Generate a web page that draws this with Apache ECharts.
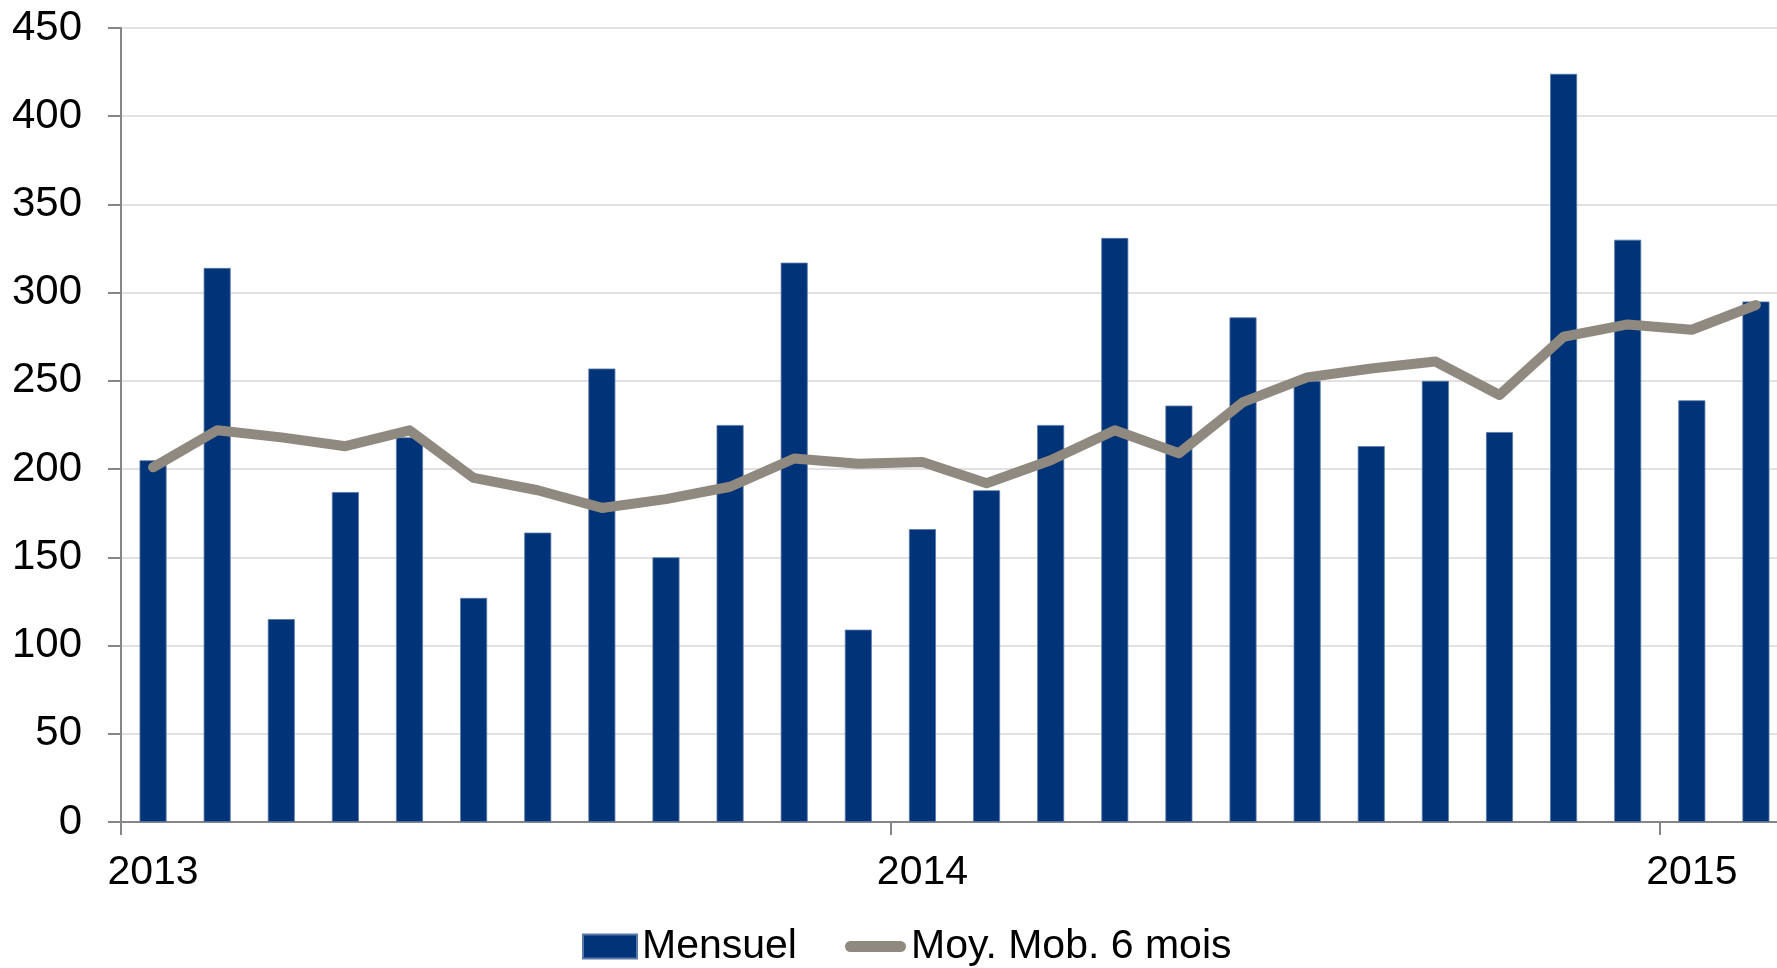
<!DOCTYPE html>
<html>
<head>
<meta charset="utf-8">
<script src="https://cdn.jsdelivr.net/npm/echarts@6/dist/echarts.min.js"></script>
<style>
html,body{margin:0;padding:0;background:#fff;}
#chart{width:1777px;height:968px;}
</style>
</head>
<body>
<div id="chart"></div>
<script>
// Months Jan 2013 .. Feb 2015
const months = ['2013-01','2013-02','2013-03','2013-04','2013-05','2013-06','2013-07','2013-08','2013-09','2013-10','2013-11','2013-12',
                '2014-01','2014-02','2014-03','2014-04','2014-05','2014-06','2014-07','2014-08','2014-09','2014-10','2014-11','2014-12',
                '2015-01','2015-02'];
const mensuel = [205, 314, 115, 187, 218, 127, 164, 257, 150, 225, 317, 109,
                 166, 188, 225, 331, 236, 286, 250, 213, 250, 221, 424, 330,
                 239, 295];
const moyMob6 = [201, 222, 218, 213, 222, 195, 188, 178, 183, 190, 206, 203,
                 204, 192, 205, 222, 209, 238, 252, 257, 261, 242, 275, 282,
                 279, 293];
const yTicks = [0, 50, 100, 150, 200, 250, 300, 350, 400, 450];
const seriesNames = ['Mensuel', 'Moy. Mob. 6 mois'];

const chart = echarts.init(document.getElementById('chart'));
const axisGray = '#868686';
const barColor = '#003377';
const lineColor = '#8f8980';
const font = "'Liberation Sans', Arial, sans-serif";
const isYearStart = (idx) => months[idx].slice(5) === '01';
const legendText = { fontFamily: font, fontSize: 41, color: '#000' };

chart.setOption({
  animation: false,
  backgroundColor: '#ffffff',
  grid: { left: 121, top: 28, width: 1667, height: 794, containLabel: false, outerBoundsMode: 'none' },
  legend: [
    {
      data: [{ name: seriesNames[0], icon: 'rect' }],
      left: 582, top: 926, padding: 0,
      itemWidth: 54, itemHeight: 24,
      textStyle: legendText
    },
    {
      data: [{ name: seriesNames[1], icon: 'path://M5.5,0 L55.5,0 A5.5,5.5 0 0 1 55.5,11 L5.5,11 A5.5,5.5 0 0 1 5.5,0 Z', itemStyle: { color: lineColor } }],
      left: 845, top: 926, padding: 0,
      itemWidth: 61, itemHeight: 11,
      textStyle: legendText
    }
  ],
  xAxis: {
    type: 'category',
    data: months,
    boundaryGap: true,
    axisLine: { show: true, lineStyle: { color: axisGray, width: 2 } },
    axisTick: { show: true, length: 13, alignWithLabel: false, interval: (i) => isYearStart(i), lineStyle: { color: axisGray, width: 2 } },
    axisLabel: {
      interval: (i) => isYearStart(i),
      formatter: (v) => v.slice(0, 4),
      fontFamily: font, fontSize: 41, color: '#000', margin: 30
    },
    splitLine: { show: false }
  },
  yAxis: {
    type: 'value',
    min: yTicks[0], max: yTicks[yTicks.length - 1], interval: 50,
    axisLine: { show: true, lineStyle: { color: axisGray, width: 2 } },
    axisTick: { show: true, length: 13, lineStyle: { color: axisGray, width: 2 } },
    axisLabel: { fontFamily: font, fontSize: 42, color: '#000', margin: 39 },
    splitLine: { show: true, lineStyle: { color: '#d9d9d9', width: 1.5 } }
  },
  series: [
    {
      name: seriesNames[0],
      type: 'bar',
      data: mensuel,
      barWidth: 27,
      itemStyle: { color: barColor, borderColor: '#5a78a8', borderWidth: 0.8 },
      z: 2
    },
    {
      name: seriesNames[1],
      type: 'line',
      data: moyMob6,
      symbol: 'none',
      showSymbol: false,
      lineStyle: { color: lineColor, width: 10, cap: 'round', join: 'round' },
      itemStyle: { color: lineColor },
      z: 3
    }
  ]
});
</script>
</body>
</html>
